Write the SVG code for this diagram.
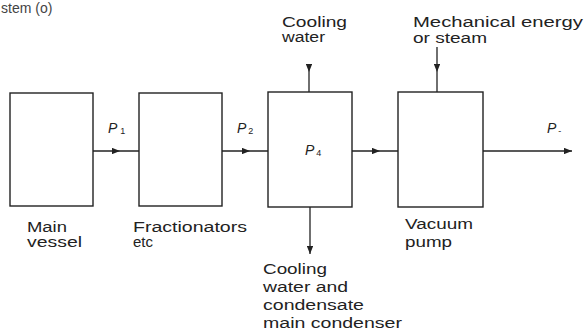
<svg xmlns="http://www.w3.org/2000/svg" width="584" height="333" viewBox="0 0 584 333">
<style>
.box{fill:none;stroke:#222;stroke-width:1.4}
.ln{fill:none;stroke:#222;stroke-width:1.3}
.t{font-family:"Liberation Sans",Arial,sans-serif;font-size:14px;fill:#222}
.p{font-family:"Liberation Sans",Arial,sans-serif;font-size:14px;font-style:italic;fill:#222}
.s{font-size:9px;font-style:normal}
</style>
<defs>
<marker id="ah" viewBox="0 0 10 8" refX="10" refY="4" markerWidth="8" markerHeight="6.4" markerUnits="userSpaceOnUse" orient="auto">
<path d="M0,0 L10,4 L0,8 z" fill="#222"/>
</marker>
</defs>
<rect width="584" height="333" fill="#fff"/>
<text class="t" x="1" y="13" style="fill:#444">stem (o)</text>
<g id="connectors">
<path class="ln" d="M93,151 L120,151 L139,151" marker-mid="url(#ah)"/>
<path class="ln" d="M222,151 L250,151 L268,151" marker-mid="url(#ah)"/>
<path class="ln" d="M352,151 L380,151 L398,151" marker-mid="url(#ah)"/>
<path class="ln" d="M483,151 L572,151" marker-end="url(#ah)"/>
<path class="ln" d="M309,64 L309,72 L309,92" marker-mid="url(#ah)"/>
<path class="ln" d="M437,47 L437,72 L437,92" marker-mid="url(#ah)"/>
<path class="ln" d="M310,207 L310,254" marker-end="url(#ah)"/>
</g>
<g id="main-vessel">
<rect class="box" x="10" y="93" width="83" height="113"/>
<text class="t" x="27" y="232" textLength="40" lengthAdjust="spacingAndGlyphs">Main</text>
<text class="t" x="27" y="247" textLength="55" lengthAdjust="spacingAndGlyphs">vessel</text>
</g>
<g id="fractionators">
<rect class="box" x="139" y="93" width="83" height="113"/>
<text class="t" x="133" y="232" textLength="114" lengthAdjust="spacingAndGlyphs">Fractionators</text>
<text class="t" x="133" y="247" textLength="20" lengthAdjust="spacingAndGlyphs">etc</text>
</g>
<g id="condenser">
<rect class="box" x="268" y="92" width="84" height="115"/>
<text class="p" x="305" y="155">P<tspan class="s" dx="2" dy="1">4</tspan></text>
</g>
<g id="vacuum-pump">
<rect class="box" x="398" y="92" width="85" height="115"/>
<text class="t" x="405" y="229" textLength="68" lengthAdjust="spacingAndGlyphs">Vacuum</text>
<text class="t" x="405" y="247" textLength="47" lengthAdjust="spacingAndGlyphs">pump</text>
</g>
<g id="labels">
<text class="p" x="108" y="133">P<tspan class="s" dx="3" dy="1">1</tspan></text>
<text class="p" x="237" y="133">P<tspan class="s" dx="2" dy="1">2</tspan></text>
<text class="p" x="547" y="133">P<tspan class="s" dx="2" dy="1">-</tspan></text>
<text class="t" x="282" y="27" textLength="65" lengthAdjust="spacingAndGlyphs">Cooling</text>
<text class="t" x="282" y="42" textLength="43" lengthAdjust="spacingAndGlyphs">water</text>
<text class="t" x="413" y="27" textLength="170" lengthAdjust="spacingAndGlyphs">Mechanical energy</text>
<text class="t" x="413" y="43" textLength="74" lengthAdjust="spacingAndGlyphs">or steam</text>
<text class="t" x="263" y="274" textLength="64" lengthAdjust="spacingAndGlyphs">Cooling</text>
<text class="t" x="263" y="292" textLength="85" lengthAdjust="spacingAndGlyphs">water and</text>
<text class="t" x="263" y="310" textLength="101" lengthAdjust="spacingAndGlyphs">condensate</text>
<text class="t" x="263" y="328" textLength="139" lengthAdjust="spacingAndGlyphs">main condenser</text>
</g>
</svg>
